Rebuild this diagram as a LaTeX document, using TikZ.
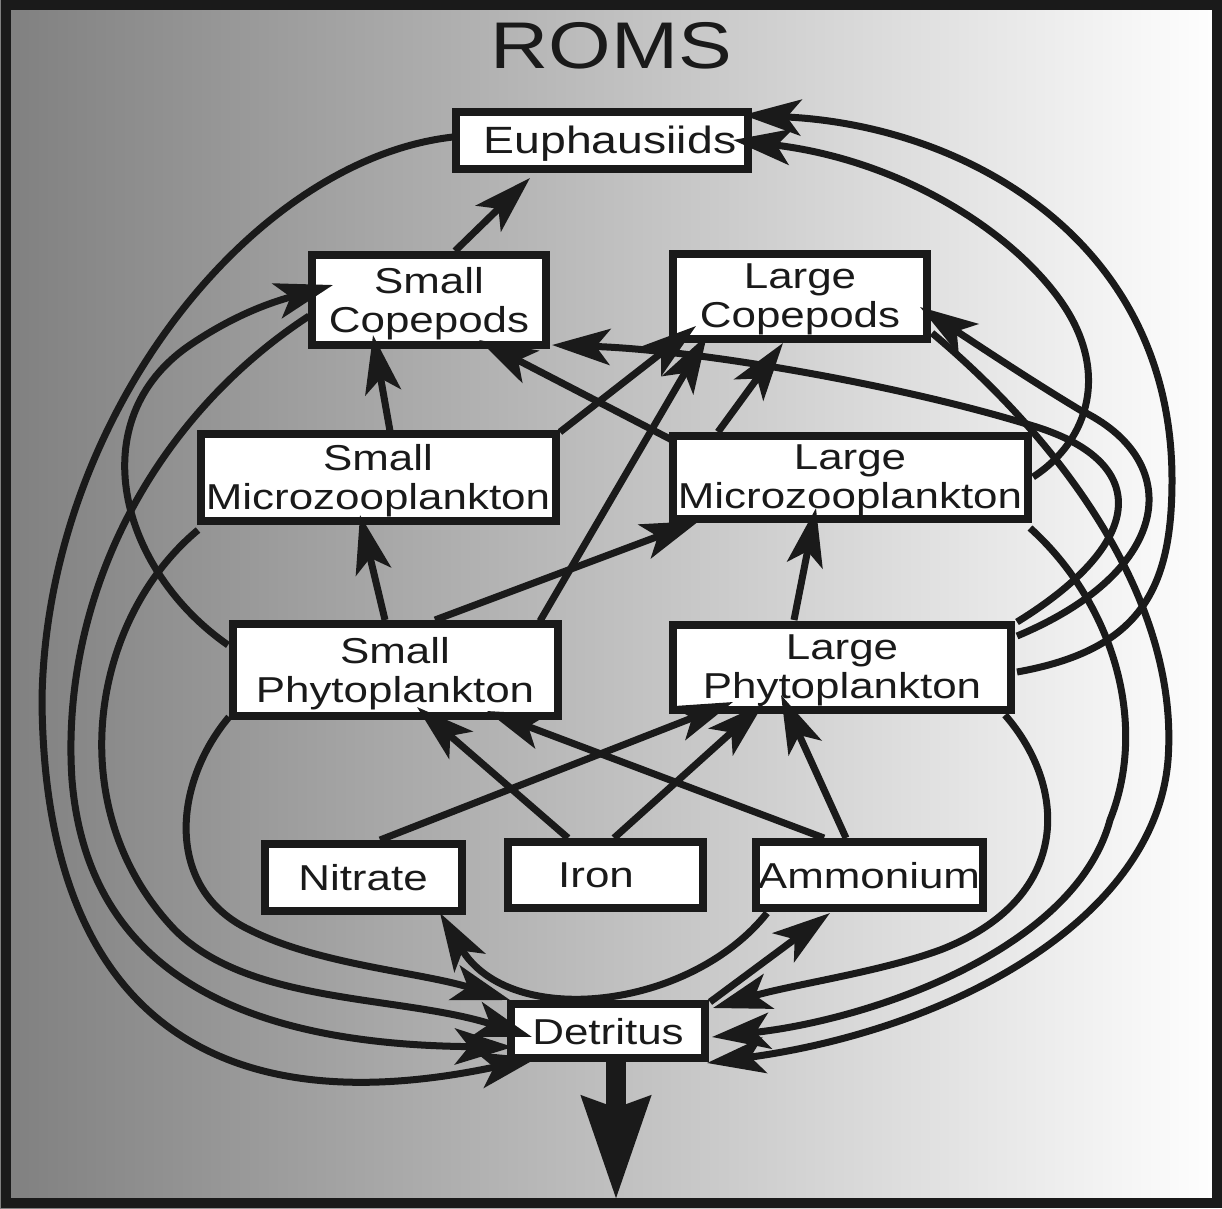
\documentclass[tikz,border=0pt]{standalone}
\usepackage{fontspec}
\setmainfont{Liberation Sans}[FakeStretch=1.22]
\usetikzlibrary{arrows.meta,calc}
\definecolor{ink}{HTML}{1A1A1A}
\begin{document}
\begin{tikzpicture}[x=1pt,y=-1pt,
  nbox/.style={draw=ink, line width=8pt, fill=white, inner sep=0pt, align=center,
    font=\fontsize{36}{39}\selectfont, text=ink, text depth=0pt},
  conn/.style={draw=ink, line width=7pt, -{Stealth[length=58pt,width=36pt,inset=14pt]}},
  sinkarrow/.style={draw=ink, line width=20pt, -{Stealth[length=102pt,width=66pt,inset=10pt]}}]
\useasboundingbox (0,0) rectangle (1222,1208);
\shade[left color=black!50,right color=white] (0,0) rectangle (1222,1208);

\node[font=\fontsize{66}{70}\selectfont, text=ink, anchor=base, inner sep=0pt] (title) at (611,68) {ROMS};

\node[nbox, font=\fontsize{38}{40}\selectfont, minimum width=292pt, minimum height=57pt] (euph) at (602,140) {\hspace*{16pt}Euphausiids};
\node[nbox, minimum width=234pt, minimum height=90pt] (scop) at (429,300) {Small\\Copepods};
\node[nbox, minimum width=254pt, minimum height=85pt] (lcop) at (800,296) {Large\\Copepods};
\node[nbox, minimum width=355pt, minimum height=87pt] (smz) at (378,477) {Small\\Microzooplankton};
\node[nbox, minimum width=355pt, minimum height=83pt] (lmz) at (850,477) {Large\\Microzooplankton};
\node[nbox, minimum width=325pt, minimum height=92pt] (sph) at (395,670) {Small\\Phytoplankton};
\node[nbox, minimum width=338pt, minimum height=85pt] (lph) at (842,667) {Large\\Phytoplankton};
\node[nbox, minimum width=197pt, minimum height=67pt] (nit) at (363,877) {Nitrate};
\node[nbox, minimum width=195pt, minimum height=66pt] (iron) at (605,875) {Iron\hspace*{18pt}};
\node[nbox, minimum width=227pt, minimum height=66pt] (amm) at (869,875) {Ammonium};
\node[nbox, minimum width=194pt, minimum height=54pt] (det) at (608,1031) {Detritus};

% straight arrows
\draw[conn] ($(scop.center)+(26,-49)$) -- ($(euph.center)+(-72,38)$);
\draw[conn] ($(smz.center)+(12,-46)$) -- ($(scop.center)+(-56,35)$);
\draw[conn] ($(lmz.center)+(-178,-37)$) -- ($(scop.center)+(50,40)$);
\draw[conn] ($(smz.center)+(182,-45)$) -- ($(lcop.center)+(-104,30)$);
\draw[conn] ($(sph.center)+(145,-49)$) -- ($(lcop.center)+(-93,39)$);
\draw[conn] ($(lmz.center)+(-132,-45)$) -- ($(lcop.center)+(-17,47)$);
\draw[conn] ($(sph.center)+(-10,-50)$) -- ($(smz.center)+(-18,38)$);
\draw[conn] ($(sph.center)+(40,-50)$) -- ($(lmz.center)+(-151,44)$);
\draw[conn] ($(lph.center)+(-48,-47)$) -- ($(lmz.center)+(-34,31)$);
\draw[conn] ($(nit.center)+(17,-37)$) -- ($(lph.center)+(-109,35)$);
\draw[conn] ($(iron.center)+(-37,-37)$) -- ($(sph.center)+(22,37)$);
\draw[conn] ($(iron.center)+(9,-37)$) -- ($(lph.center)+(-78,36)$);
\draw[conn] ($(amm.center)+(-45,-37)$) -- ($(sph.center)+(92,41)$);
\draw[conn] ($(amm.center)+(-23,-37)$) -- ($(lph.center)+(-61,28)$);
\draw[conn] ($(det.center)+(102,-29)$) -- ($(amm.center)+(-39,38)$);

% ammonium -> nitrate
\draw[conn] ($(amm.center)+(-102,38)$) .. controls (690,1010) and (510,1030) .. ($(nit.center)+(77,36)$);

% left side curves
\draw[conn] ($(euph.center)+(-149,-3)$) .. controls (250,160) and (46,420) .. (42,700)
  .. controls (44,1000) and (200,1130) .. ($(det.center)+(-71,27)$);
\draw[conn] ($(scop.center)+(-120,16)$) .. controls (150,420) and (60,600) .. (72,780)
  .. controls (90,1000) and (290,1045) .. ($(det.center)+(-95,16)$);
\draw[conn] ($(smz.center)+(-180,53)$) .. controls (90,620) and (60,810) .. (175,930)
  .. controls (250,1005) and (400,995) .. ($(det.center)+(-76,6)$);
\draw[conn] ($(sph.center)+(-166,47)$) .. controls (172,785) and (165,890) .. (250,930)
  .. controls (320,965) and (420,972) .. ($(det.center)+(-98,-31)$);
\draw[conn] ($(sph.center)+(-167,-25)$) .. controls (120,570) and (80,420) .. (190,345)
  .. controls (240,311) and (280,300) .. ($(scop.center)+(-96,-15)$);

% right side curves
\draw[conn] ($(lph.center)+(175,-45)$) .. controls (1150,540) and (1150,460) .. (1030,425)
  .. controls (900,385) and (700,350) .. ($(scop.center)+(123,45)$);
\draw[conn] ($(lph.center)+(175,-31)$) .. controls (1175,570) and (1185,460) .. (1080,410)
  .. controls (1030,380) and (970,340) .. ($(lcop.center)+(120,11)$);
\draw[conn] ($(lph.center)+(175,5)$) .. controls (1140,650) and (1172,590) .. (1172,480)
  .. controls (1172,240) and (965,125) .. ($(euph.center)+(141,-25)$);
\draw[conn] ($(lmz.center)+(183,0)$) .. controls (1090,440) and (1110,370) .. (1060,300)
  .. controls (1010,230) and (900,160) .. ($(euph.center)+(131,0)$);
\draw[conn] ($(lmz.center)+(180,51)$) .. controls (1110,600) and (1150,720) .. (1110,820)
  .. controls (1075,950) and (870,1020) .. ($(det.center)+(104,6)$);
\draw[conn] ($(lcop.center)+(132,37)$) .. controls (1060,440) and (1180,600) .. (1168,760)
  .. controls (1155,920) and (950,1030) .. ($(det.center)+(99,32)$);
\draw[conn] ($(lph.center)+(163,48)$) .. controls (1070,790) and (1070,900) .. (940,950)
  .. controls (880,972) and (790,985) .. ($(det.center)+(105,-23)$);

% sinking
\coordinate (sink) at (616,1200);
\draw[sinkarrow] ($(det.south)+(8,0)$) -- (sink);

% frame
\draw[ink, line width=10pt] (6,5) rectangle (1217,1203);
\end{tikzpicture}
\end{document}
